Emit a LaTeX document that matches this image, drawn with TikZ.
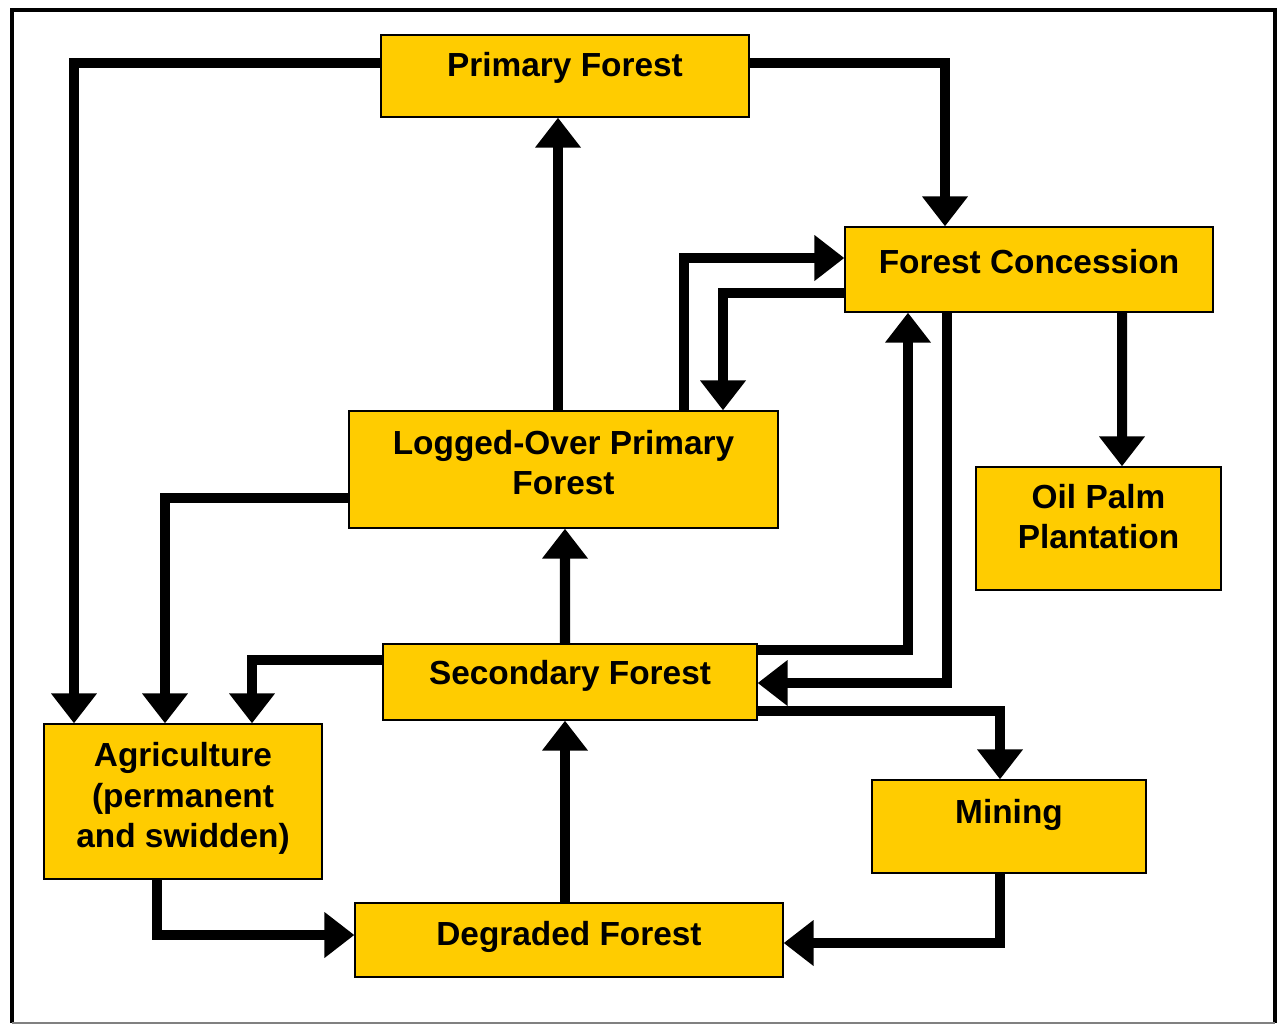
\documentclass[tikz,border=0pt]{standalone}
\usepackage{fontspec}
\setmainfont{Liberation Sans}
\usetikzlibrary{arrows.meta, calc}
\definecolor{boxyellow}{RGB}{255,204,0}
\tikzset{>={Triangle[length=17pt,width=25pt]}}

\begin{document}
\begin{tikzpicture}[x=0.02cm, y=-0.02cm,
		landuse/.style={draw=black, line width=0.8pt, fill=boxyellow},
		landtext/.style={align=center, yshift=0.16cm, font=\bfseries\fontsize{19}{23}\selectfont},
		flow/.style={->, line width=5.7pt}]
		% Frame
		\useasboundingbox (0,0) rectangle (1278,1025);
		\draw[line width=2.4pt] (12,1023) -- (12,10) -- (1275,10) -- (1275,1023);
		\draw[gray, line width=0.8pt] (12,1023) -- (1275,1023);
		% Land use classes
		\node[landuse, minimum width=7.36cm, minimum height=1.64cm,
			label={[landtext]center:Primary Forest}] (pf) at (565,76) {};
		\node[landuse, minimum width=7.36cm, minimum height=1.70cm,
			label={[landtext]center:Forest Concession}] (fc) at (1029,269.5) {};
		\node[landuse, minimum width=8.58cm, minimum height=2.34cm,
			label={[landtext, yshift=-0.02cm]center:Logged-Over Primary\\Forest}] (lo) at (563.5,469.5) {};
		\node[landuse, minimum width=4.90cm, minimum height=2.46cm,
			label={[landtext, yshift=0.08cm]center:Oil Palm\\Plantation}] (op) at (1098.5,528.5) {};
		\node[landuse, minimum width=7.48cm, minimum height=1.52cm,
			label={[landtext, yshift=-0.04cm]center:Secondary Forest}] (sf) at (570,682) {};
		\node[landuse, minimum width=5.56cm, minimum height=3.10cm,
			label={[landtext, yshift=-0.10cm]center:Agriculture\\(permanent\\and swidden)}] (ag) at (183,801.5) {};
		\node[landuse, minimum width=5.48cm, minimum height=1.86cm,
			label={[landtext, yshift=0.08cm]center:Mining}] (mi) at (1009,826.5) {};
		\node[landuse, minimum width=8.56cm, minimum height=1.48cm,
			label={[landtext, yshift=-0.10cm]center:Degraded Forest}] (df) at (569,940) {};
		% From primary forest
		\draw[flow] ($(pf.west)+(0,-13)$) -| ($(ag.north)+(-109,0)$);
		\draw[flow] ($(pf.east)+(0,-13)$) -| ($(fc.north)+(-84,0)$);
		% Logged-over forest and concession
		\draw[flow] ($(lo.north)+(-5.5,0)$) -- ($(pf.south)+(-7,0)$);
		\draw[flow] ($(lo.north)+(120.5,0)$) |- ($(fc.west)+(0,-11.5)$);
		\draw[flow] ($(fc.west)+(0,23.5)$) -| ($(lo.north)+(159.5,0)$);
		\draw[flow] ($(lo.west)+(0,28.5)$) -| ($(ag.north)+(-18,0)$);
		% Secondary forest
		\draw[flow] ($(sf.east)+(0,-32)$) -| ($(fc.south)+(-121,0)$);
		\draw[flow] ($(fc.south)+(-82,0)$) |- ($(sf.east)+(0,1)$);
		\draw[flow] ($(sf.east)+(0,29)$) -| ($(mi.north)+(-9,0)$);
		\draw[flow] ($(sf.west)+(0,-22)$) -| ($(ag.north)+(69,0)$);
		\draw[flow] ($(sf.north)+(-5,0)$) -- ($(lo.south)+(1.5,0)$);
		% Concession to plantation
		\draw[flow] ($(fc.south)+(93,0)$) -- ($(op.north)+(23.5,0)$);
		% Into degraded forest
		\draw[flow] ($(df.north)+(-4,0)$) -- ($(sf.south)+(-5,0)$);
		\draw[flow] ($(ag.south)+(-26,0)$) |- ($(df.west)+(0,-5)$);
		\draw[flow] ($(mi.south)+(-9,0)$) |- ($(df.east)+(0,3)$);
	\end{tikzpicture}
\end{document}
